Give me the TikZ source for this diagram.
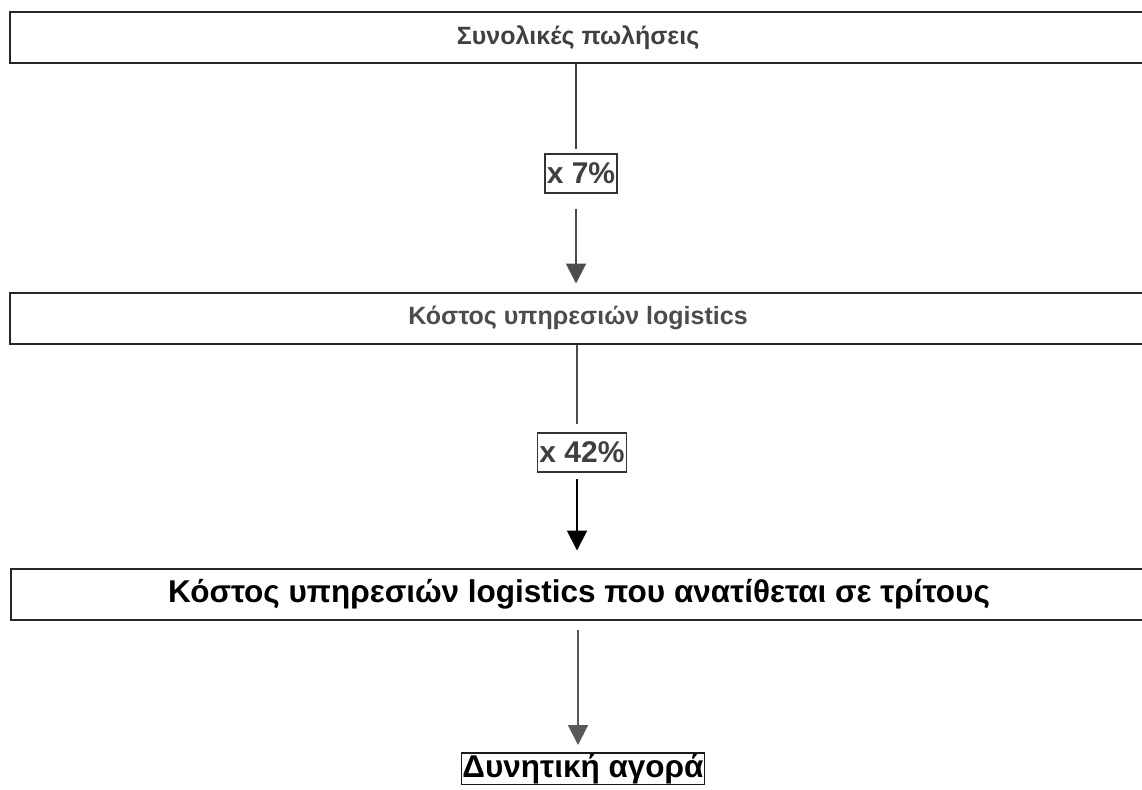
\documentclass[tikz,border=0pt]{standalone}
\usepackage{fontspec}
\setmainfont{Liberation Sans}
\usetikzlibrary{arrows.meta, positioning}

\begin{document}
\begin{tikzpicture}[
      x=1pt, y=-1pt,
      wide/.style={rectangle, draw=black!85, line width=2pt, minimum width=1136pt, minimum height=51pt, inner sep=0pt, font=\fontsize{25}{30}\selectfont\bfseries},
      factor/.style={rectangle, draw=black!80, line width=1.6pt, minimum height=39pt, inner xsep=2pt, inner ysep=0pt, font=\fontsize{30}{34}\selectfont\bfseries, text=black!75},
      result/.style={rectangle, draw=black!90, line width=1.6pt, inner xsep=1pt, inner ysep=1pt, font=\fontsize{31.5}{36}\selectfont\bfseries},
      link/.style={line width=2pt},
      arrow/.style={-{Triangle[length=20pt, width=20pt]}, line width=2pt}
    ]
    \useasboundingbox (0,0) rectangle (1142,789);

    \node[wide, text=black!75] (sales) at (578,37.5) {Συνολικές πωλήσεις};
    \node[factor] (f1) at (581,173.5) {x 7\%};
    \node[wide, text=black!70] (cost) at (578,318) {Κόστος υπηρεσιών logistics};
    \node[factor] (f2) at (582,452.5) {x 42\%};
    \node[wide, text=black, font=\fontsize{31.5}{36}\selectfont\bfseries] (out) at (579,594) {Κόστος υπηρεσιών logistics που ανατίθεται σε τρίτους};
    \node[result, anchor=north] (market) at (583,752) {Δυνητική αγορά};

    \draw[link, black!75] (sales.south -| 576,0) -- ([xshift=-5pt, yshift=4pt]f1.north);
    \draw[arrow, black!70, shorten <=15pt, shorten >=8pt] ([xshift=-5pt]f1.south) -- (cost.north -| 576,0);
    \draw[link, black!70, shorten >=8pt] (cost.south -| 577,0) -- ([xshift=-5pt]f2.north);
    \draw[arrow, black, shorten <=6pt, shorten >=17pt] ([xshift=-5pt]f2.south) -- (out.north -| 577,0);
    \draw[arrow, black!65, shorten <=9pt, shorten >=7pt] (out.south -| 578,0) -- (market.north -| 578,0);
  \end{tikzpicture}
\end{document}
